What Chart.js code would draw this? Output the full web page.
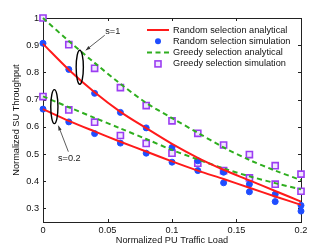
<!DOCTYPE html>
<html><head><meta charset="utf-8">
<script src="https://cdn.jsdelivr.net/npm/chart.js@4"></script>
<style>html,body{margin:0;padding:0;background:#fff;overflow:hidden}</style>
</head><body>
<canvas id="c" width="332" height="250"></canvas>
<script>
// ---- data ----
const xLoad = [0, 0.02, 0.04, 0.06, 0.08, 0.1, 0.12, 0.14, 0.16, 0.18, 0.2];
const randomAnalyticalS1  = [0.905, 0.810, 0.727, 0.655, 0.595, 0.537, 0.486, 0.442, 0.403, 0.364, 0.325];
const randomAnalyticalS02 = [0.665, 0.622, 0.583, 0.545, 0.509, 0.473, 0.439, 0.408, 0.376, 0.344, 0.313];
const randomSimS1  = [0.907, 0.811, 0.723, 0.653, 0.596, 0.524, 0.475, 0.433, 0.389, 0.352, 0.311];
const randomSimS02 = [0.665, 0.618, 0.575, 0.540, 0.503, 0.470, 0.439, 0.394, 0.361, 0.325, 0.290];
const greedyAnalyticalS1  = [1.000, 0.915, 0.835, 0.758, 0.688, 0.632, 0.578, 0.524, 0.478, 0.439, 0.404];
const greedyAnalyticalS02 = [0.712, 0.672, 0.633, 0.594, 0.555, 0.515, 0.480, 0.447, 0.418, 0.393, 0.370];
const greedySimS1  = [1.000, 0.902, 0.815, 0.744, 0.678, 0.622, 0.576, 0.533, 0.498, 0.457, 0.426];
const greedySimS02 = [0.711, 0.662, 0.617, 0.568, 0.539, 0.503, 0.466, 0.439, 0.412, 0.389, 0.363];
const xTicks = [0, 0.05, 0.1, 0.15, 0.2];
const yTicks = [0.3, 0.4, 0.5, 0.6, 0.7, 0.8, 0.9, 1];
const legendLabels = ['Random selection analytical', 'Random selection simulation', 'Greedy selection analytical', 'Greedy selection simulation'];
const xTitle = 'Normalized PU Traffic Load';
const yTitle = 'Normalized SU Throughput';
const annotations = [
  {label: 's=1',   cx: 0.0285, cy: 0.819},
  {label: 's=0.2', cx: 0.0088, cy: 0.674}
];

const FONT = 'Liberation Sans, Arial, sans-serif';
const FS = 9.2;
const RED = '#ff1a1a', BLUE = '#1f4dff', GREEN = '#2fae1f', PURPLE = '#9b3df2';

const pts = arr => xLoad.map((x, i) => ({x: x, y: arr[i]}));
const lineDs = (arr, color, dash) => ({data: pts(arr), showLine: true, borderColor: color, borderWidth: 2,
  borderDash: dash || [], pointRadius: 0, tension: 0.3, fill: false, clip: false});
const dotDs = arr => ({data: pts(arr), showLine: false, pointStyle: 'circle', pointRadius: 3,
  pointBackgroundColor: BLUE, pointBorderColor: BLUE, pointBorderWidth: 1, clip: false});
const sqDs = arr => ({data: pts(arr), showLine: false, pointStyle: 'rect', pointRadius: 4.3,
  pointBackgroundColor: '#f1e6ff', pointBorderColor: PURPLE, pointBorderWidth: 1.6, clip: false});

const L = {left: 43, right: 301, top: 18, bottom: 222};

const decor = {
  id: 'decor',
  beforeDatasetsDraw(chart) {
    const ctx = chart.ctx, a = chart.chartArea, xs = chart.scales.x, ys = chart.scales.y;
    ctx.save();
    ctx.strokeStyle = '#222'; ctx.lineWidth = 1;
    ctx.strokeRect(Math.round(a.left) + 0.5, Math.round(a.top) + 0.5, Math.round(a.right - a.left), Math.round(a.bottom - a.top));
    ctx.beginPath();
    xTicks.forEach(v => { const p = Math.round(xs.getPixelForValue(v)) + 0.5;
      ctx.moveTo(p, a.bottom); ctx.lineTo(p, a.bottom - 3); ctx.moveTo(p, a.top); ctx.lineTo(p, a.top + 3); });
    yTicks.forEach(v => { const p = Math.round(ys.getPixelForValue(v)) + 0.5;
      ctx.moveTo(a.left, p); ctx.lineTo(a.left + 3, p); ctx.moveTo(a.right, p); ctx.lineTo(a.right - 3, p); });
    ctx.stroke();
    ctx.restore();
  },
  afterDatasetsDraw(chart) {
    const ctx = chart.ctx, xs = chart.scales.x, ys = chart.scales.y;
    ctx.save();
    ctx.strokeStyle = '#000'; ctx.lineWidth = 1.4;
    annotations.forEach(an => {
      const cx = xs.getPixelForValue(an.cx), cy = ys.getPixelForValue(an.cy);
      ctx.beginPath(); ctx.ellipse(cx, cy, 3.6, 17, 0, 0, Math.PI * 2); ctx.stroke();
    });
    const arrow = (x1, y1, x2, y2) => {
      ctx.strokeStyle = '#333'; ctx.fillStyle = '#333'; ctx.lineWidth = 0.8;
      ctx.beginPath(); ctx.moveTo(x1, y1); ctx.lineTo(x2, y2); ctx.stroke();
      const ang = Math.atan2(y2 - y1, x2 - x1), h = 5;
      ctx.beginPath(); ctx.moveTo(x2, y2);
      ctx.lineTo(x2 - h * Math.cos(ang - 0.35), y2 - h * Math.sin(ang - 0.35));
      ctx.lineTo(x2 - h * Math.cos(ang + 0.35), y2 - h * Math.sin(ang + 0.35));
      ctx.closePath(); ctx.fill();
    };
    const e1x = xs.getPixelForValue(annotations[0].cx), e1y = ys.getPixelForValue(annotations[0].cy);
    const e2x = xs.getPixelForValue(annotations[1].cx), e2y = ys.getPixelForValue(annotations[1].cy);
    arrow(e1x + 25, e1y - 32, e1x + 6, e1y - 17);
    arrow(e2x + 14, e2y + 45, e2x + 4, e2y + 19);
    ctx.fillStyle = '#222'; ctx.font = FS + 'px ' + FONT; ctx.textAlign = 'center'; ctx.textBaseline = 'middle';
    ctx.fillText(annotations[0].label, e1x + 33, e1y - 36);
    ctx.fillText(annotations[1].label, e2x + 15, e2y + 52);
    const lx0 = 147, lx1 = 169, tx = 173, ly0 = 30, dy = 11.3;
    ctx.textAlign = 'left'; ctx.textBaseline = 'middle';
    legendLabels.forEach((lab, i) => {
      const y = ly0 + i * dy;
      if (i === 0 || i === 2) {
        ctx.strokeStyle = i === 0 ? RED : GREEN; ctx.lineWidth = 2;
        ctx.setLineDash(i === 2 ? [5, 3.5] : []);
        ctx.beginPath(); ctx.moveTo(lx0, y); ctx.lineTo(lx1, y); ctx.stroke();
        ctx.setLineDash([]);
      } else if (i === 1) {
        ctx.fillStyle = BLUE; ctx.beginPath(); ctx.arc(158, y, 3, 0, Math.PI * 2); ctx.fill();
      } else {
        ctx.fillStyle = '#f1e6ff'; ctx.strokeStyle = PURPLE; ctx.lineWidth = 1.6;
        ctx.fillRect(155, y - 3, 6, 6); ctx.strokeRect(155, y - 3, 6, 6);
      }
      ctx.fillStyle = '#111'; ctx.fillText(lab, tx, y);
    });
    ctx.restore();
  }
};

new Chart(document.getElementById('c'), {
  type: 'scatter',
  data: { datasets: [
    lineDs(randomAnalyticalS1, RED), lineDs(randomAnalyticalS02, RED),
    lineDs(greedyAnalyticalS1, GREEN, [5, 3.5]), lineDs(greedyAnalyticalS02, GREEN, [5, 3.5]),
    dotDs(randomSimS1), dotDs(randomSimS02),
    sqDs(greedySimS1), sqDs(greedySimS02)
  ]},
  options: {
    responsive: false, animation: false, devicePixelRatio: 1,
    layout: {padding: {top: L.top, right: 332 - L.right, left: 0, bottom: 0}},
    plugins: {legend: {display: false}, tooltip: {enabled: false}},
    scales: {
      x: {type: 'linear', min: 0, max: 0.2,
        afterBuildTicks: s => { s.ticks = xTicks.map(v => ({value: v})); },
        afterFit: s => { s.height = 250 - L.bottom; },
        grid: {display: false, drawTicks: false}, border: {display: false},
        ticks: {padding: 3, color: '#111', font: {family: FONT, size: FS}, maxRotation: 0, callback: v => String(v)},
        title: {display: true, text: xTitle, color: '#111', font: {family: FONT, size: FS}, padding: {top: 0, bottom: 4}}},
      y: {type: 'linear', min: 0.25, max: 1,
        afterBuildTicks: s => { s.ticks = yTicks.map(v => ({value: v})); },
        afterFit: s => { s.width = L.left; },
        grid: {display: false, drawTicks: false}, border: {display: false},
        ticks: {padding: 4, color: '#111', font: {family: FONT, size: FS}, callback: v => String(v)},
        title: {display: true, text: yTitle, color: '#111', font: {family: FONT, size: FS}, padding: {top: 11, bottom: 0}}}
    }
  },
  plugins: [decor]
});
</script>
</body></html>
